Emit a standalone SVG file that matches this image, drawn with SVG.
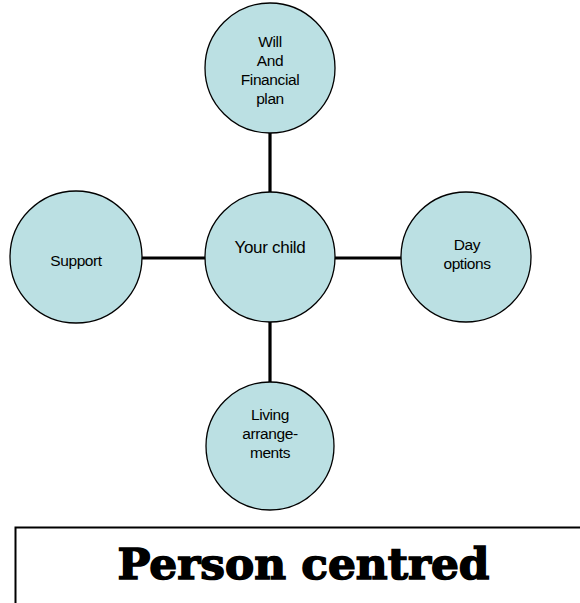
<svg xmlns="http://www.w3.org/2000/svg" width="580" height="603" viewBox="0 0 580 603">
<style>
.node{fill:#bbe0e3;stroke:#000;stroke-width:1.3}
.lbl{font-family:"Liberation Sans",Arial,sans-serif;font-size:15.5px;letter-spacing:-0.4px;fill:#000;text-anchor:middle}
.conn{stroke:#000;stroke-width:3.2;fill:none}
.title{font-family:"DejaVu Serif","Liberation Serif",serif;font-weight:bold;font-size:42px;fill:#000;stroke:#000;stroke-width:1.5;text-anchor:middle}
</style>
<rect width="580" height="603" fill="#fff"/>
<g id="connectors">
<line class="conn" x1="270" y1="133" x2="270" y2="193"/>
<line class="conn" x1="142" y1="258" x2="205" y2="258"/>
<line class="conn" x1="335" y1="258" x2="401" y2="258"/>
<line class="conn" x1="270" y1="321" x2="270" y2="383"/>
</g>
<g id="will">
<circle class="node" cx="270" cy="68" r="65"/>
<text class="lbl" x="270" y="47">Will</text>
<text class="lbl" x="270" y="66">And</text>
<text class="lbl" x="270" y="85">Financial</text>
<text class="lbl" x="270" y="104">plan</text>
</g>
<g id="child">
<circle class="node" cx="270" cy="257" r="65"/>
<text class="lbl" x="270" y="253" style="font-size:17px;letter-spacing:-0.3px">Your child</text>
</g>
<g id="support">
<circle class="node" cx="76" cy="257" r="66"/>
<text class="lbl" x="76" y="266">Support</text>
</g>
<g id="day">
<circle class="node" cx="466" cy="257" r="65"/>
<text class="lbl" x="467" y="250">Day</text>
<text class="lbl" x="467" y="269">options</text>
</g>
<g id="living">
<circle class="node" cx="270" cy="446" r="64"/>
<text class="lbl" x="270" y="420">Living</text>
<text class="lbl" x="270" y="439">arrange-</text>
<text class="lbl" x="270" y="458">ments</text>
</g>
<g id="titlebox">
<rect x="15.5" y="527.5" width="600" height="100" fill="#fff" stroke="#000" stroke-width="2"/>
<text class="title" x="303.5" y="579" textLength="372" lengthAdjust="spacingAndGlyphs">Person centred</text>
</g>
</svg>
